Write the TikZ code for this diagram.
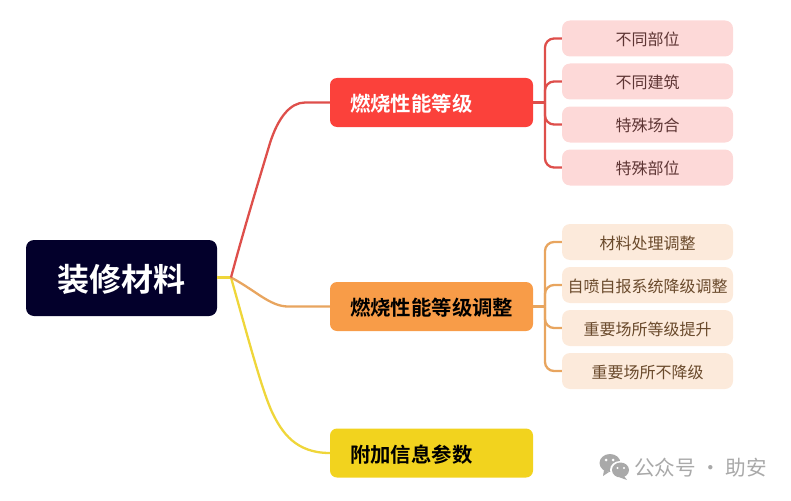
\documentclass[tikz,border=0pt]{standalone}
\usepackage{fontspec}
\setmainfont{Noto Sans CJK SC}[BoldFont={Noto Sans CJK SC Bold}]
\definecolor{rootc}{HTML}{03002B}
\definecolor{redc}{HTML}{FB413B}
\definecolor{orangec}{HTML}{F89C48}
\definecolor{yellowc}{HTML}{F2D31E}
\definecolor{redl}{HTML}{DE4F4B}
\definecolor{orangel}{HTML}{E8A55F}
\definecolor{yellowl}{HTML}{EFD63A}
\definecolor{redleaf}{HTML}{FDD9D8}
\definecolor{orangeleaf}{HTML}{FCEADB}
\definecolor{redtext}{HTML}{5E3534}
\definecolor{orangetext}{HTML}{6A4A2C}
\definecolor{wm}{HTML}{A9A9A9}
\tikzset{
  boxbase/.style={rectangle,inner sep=0pt,anchor=center},
  rootbox/.style={boxbase,fill=rootc,rounded corners=8pt,minimum width=191pt,minimum height=76pt,text=white,text height=30.2pt,text depth=3.8pt,font=\fontsize{32}{36}\selectfont\bfseries},
  branch/.style={boxbase,rounded corners=7pt,minimum width=203pt,minimum height=49pt,text width=163pt,align=left,text height=20.6pt,text depth=2.4pt,font=\fontsize{20.4}{24}\selectfont\bfseries},
  leafbox/.style={boxbase,align=center,rounded corners=8pt,minimum width=171pt,minimum height=36pt,text height=16.1pt,text depth=1.9pt,font=\fontsize{16}{20}\selectfont},
  redleafbox/.style={leafbox,fill=redleaf,text=redtext},
  orangeleafbox/.style={leafbox,fill=orangeleaf,text=orangetext},
  conn/.style={line width=2.3pt},
  brk/.style={conn,rounded corners=9pt},
}
\begin{document}
\begin{tikzpicture}[x=1pt,y=-1pt]
\useasboundingbox (0,0) rectangle (791,500);
\coordinate (hub) at (231,277.5);
\coordinate (t1) at (545,102.5);
\coordinate (t2) at (545,306.5);
\node[rootbox] (root) at (121.5,278) {装修材料};
\node[branch,fill=redc,text=white] (b1) at (431.5,102.5) {燃烧性能等级};
\node[branch,fill=orangec,text=black] (b2) at (431.5,306.5) {燃烧性能等级调整};
\node[branch,fill=yellowc,text=black] (b3) at (431.5,453) {附加信息参数};
\node[redleafbox] (r1) at (647.5,38.5) {不同部位};
\node[redleafbox] (r2) at (647.5,81.5) {不同建筑};
\node[redleafbox] (r3) at (647.5,124.5) {特殊场合};
\node[redleafbox] (r4) at (647.5,167.5) {特殊部位};
\node[orangeleafbox] (o1) at (647.5,242) {材料处理调整};
\node[orangeleafbox] (o2) at (647.5,285) {自喷自报系统降级调整};
\node[orangeleafbox] (o3) at (647.5,328) {重要场所等级提升};
\node[orangeleafbox] (o4) at (647.5,371) {重要场所不降级};
% main connectors
\draw[conn,yellowl] (root.east|-hub) -- (hub);
\draw[conn,yellowl] (hub) .. controls (250,345) and (262,390) .. (272,412) .. controls (282,433) and (296,453) .. (b3.west);
\draw[conn,orangel] (hub) .. controls (255,290) and (270,306.5) .. (288,306.5) -- (b2.west);
\draw[conn,redl] (hub) .. controls (245,225) and (262,170) .. (270,143) .. controls (278,118) and (290,102.5) .. (305,102.5) -- (b1.west);
% brackets
\draw[conn,redl] (b1.east) -- (t1);
\foreach \n in {r1,r2,r3,r4}{\draw[brk,redl] (t1) |- (\n.west);}
\draw[conn,orangel] (b2.east) -- (t2);
\foreach \n in {o1,o2,o3,o4}{\draw[brk,orangel] (t2) |- (\n.west);}
% watermark icon
\fill[wm] (610,463) ellipse [x radius=10.5pt,y radius=9pt];
\fill[wm] (604,470) -- (603,476) -- (609,472) -- cycle;
\fill[white] (620,470) ellipse [x radius=10pt,y radius=9pt];
\fill[wm] (620.5,470) ellipse [x radius=8.5pt,y radius=7.5pt];
\fill[wm] (624,476) -- (627,480) -- (620,477.5) -- cycle;
\fill[white] (606,460) circle (1.5pt) (613,460) circle (1.5pt) (617.5,468) circle (1.2pt) (624,468) circle (1.2pt);
\node[inner sep=0pt,text=wm,font=\fontsize{20.6}{24}\selectfont,anchor=center] (wmk) at (700.5,468) {公众号 · 助安};
\end{tikzpicture}
\end{document}
